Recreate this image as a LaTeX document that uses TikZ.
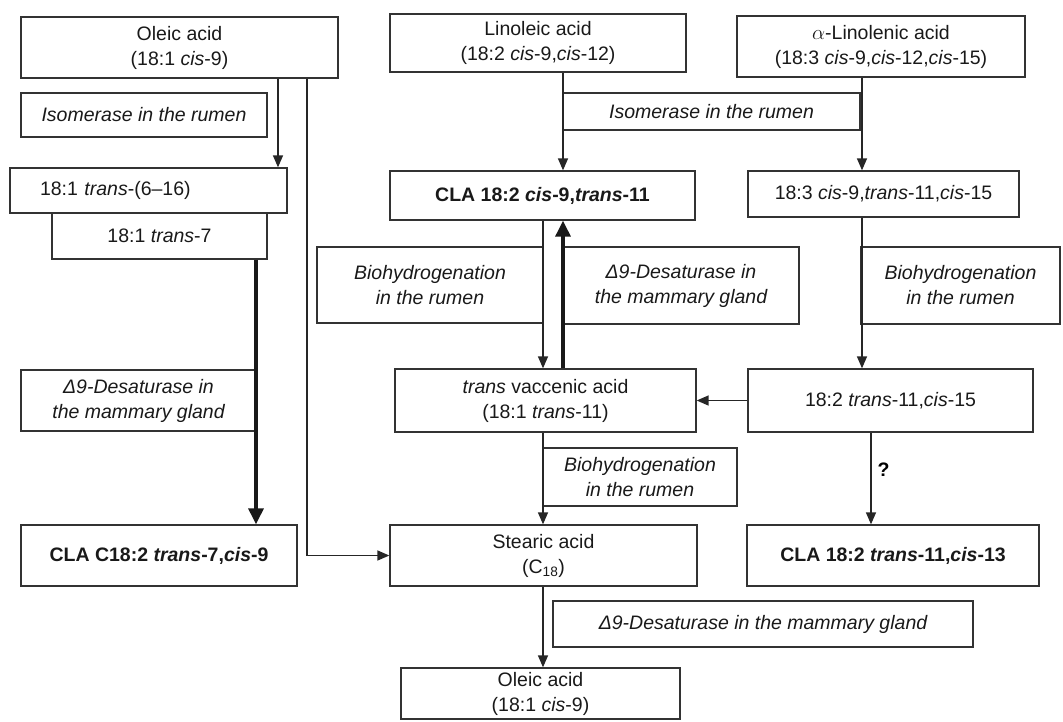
\documentclass[tikz,border=0pt]{standalone}
\usepackage{fontspec}
\setmainfont{Liberation Sans}
\usetikzlibrary{arrows.meta}

\tikzset{
    acid/.style={draw=black!80, line width=1.3pt, align=center, inner sep=0pt,
        text=black!90, font=\fontsize{19.5}{25}\selectfont},
    enzyme/.style={acid, font=\fontsize{19.5}{25}\selectfont\itshape},
    link/.style={draw=black!85, line width=1.4pt, -{Triangle[length=12pt,width=10pt]}},
    biglink/.style={draw=black!90, line width=3.2pt, -{Triangle[length=16pt,width=15pt]}}
}

\begin{document}
\begin{tikzpicture}[x=1pt, y=-1pt]
    \useasboundingbox (0,0) rectangle (1063,721);

    % 1. Cột trái: axit oleic
    \node[acid, minimum width=317pt, minimum height=61pt] (oleic) at (179.5,47.5)
        {Oleic acid\\(18:1 \textit{cis}-9)};
    \node[enzyme, minimum width=246pt, minimum height=44pt] (isoL) at (144,115)
        {Isomerase in the rumen};
    \node[acid, minimum width=277pt, minimum height=45pt, text width=217pt, align=left] (tr616) at (148.5,190.5)
        {18:1 \textit{trans}-(6--16)};
    \node[acid, minimum width=215pt, minimum height=46pt] (tr7) at (159.5,236)
        {18:1 \textit{trans}-7};
    \node[enzyme, minimum width=235pt, minimum height=61pt] (desL) at (138.5,400.5)
        {Δ9-Desaturase in\\the mammary gland};
    \node[acid, minimum width=276pt, minimum height=61pt, font=\fontsize{19.5}{25}\selectfont\bfseries] (claL) at (159,555.5)
        {CLA C18:2 \textit{trans}-7,\textit{cis}-9};

    % 2. Cột giữa: axit linoleic
    \node[acid, minimum width=296pt, minimum height=58pt] (linol) at (538,43)
        {Linoleic acid\\(18:2 \textit{cis}-9,\textit{cis}-12)};
    \node[enzyme, minimum width=297pt, minimum height=37pt] (isoM) at (711.5,111.5)
        {Isomerase in the rumen};
    \node[acid, minimum width=305pt, minimum height=49pt, font=\fontsize{19.5}{25}\selectfont\bfseries] (claM) at (542.5,195.5)
        {CLA 18:2 \textit{cis}-9,\textit{trans}-11};
    \node[enzyme, minimum width=226pt, minimum height=76pt] (bioL) at (430,285)
        {Biohydrogenation\\in the rumen};
    \node[enzyme, minimum width=236pt, minimum height=77pt] (desM) at (681,285.5)
        {Δ9-Desaturase in\\the mammary gland};
    \node[acid, minimum width=301pt, minimum height=63pt] (tva) at (545.5,400.5)
        {\textit{trans} vaccenic acid\\(18:1 \textit{trans}-11)};
    \node[enzyme, minimum width=194pt, minimum height=58pt] (bioB) at (640,477)
        {Biohydrogenation\\in the rumen};
    \node[acid, minimum width=307pt, minimum height=61pt] (stear) at (543.5,555.5)
        {Stearic acid\\(C\textsubscript{18})};
    \node[enzyme, minimum width=420pt, minimum height=46pt] (desB) at (763,624)
        {Δ9-Desaturase in the mammary gland};
    \node[acid, minimum width=279pt, minimum height=51pt] (oleicB) at (540.5,693.5)
        {Oleic acid\\(18:1 \textit{cis}-9)};

    % 3. Cột phải: axit alpha-linolenic
    \node[acid, minimum width=288pt, minimum height=61pt] (linolen) at (881,46.5)
        {$\alpha$-Linolenic acid\\(18:3 \textit{cis}-9,\textit{cis}-12,\textit{cis}-15)};
    \node[acid, minimum width=271pt, minimum height=46pt] (c183) at (883.5,194)
        {18:3 \textit{cis}-9,\textit{trans}-11,\textit{cis}-15};
    \node[enzyme, minimum width=199pt, minimum height=77pt] (bioR) at (960.5,285.5)
        {Biohydrogenation\\in the rumen};
    \node[acid, minimum width=285pt, minimum height=63pt] (c182) at (890.5,400.5)
        {18:2 \textit{trans}-11,\textit{cis}-15};
    \node[acid, minimum width=292pt, minimum height=61pt, font=\fontsize{19.5}{25}\selectfont\bfseries] (claR) at (893,555.5)
        {CLA 18:2 \textit{trans}-11,\textit{cis}-13};

    % 4. Mũi tên
    \draw[link] ([xshift=98.5]oleic.south) -- ([xshift=129.5]tr616.north);
    \draw[link] ([xshift=127.5]oleic.south) |- (stear.west);
    \draw[biglink] ([xshift=96.5]tr7.south) -- ([xshift=97]claL.north);

    \draw[link] ([xshift=25]linol.south) -- ([xshift=20.5]claM.north);
    \draw[link] ([xshift=0.5]claM.south) -- ([xshift=-2.5]tva.north);
    \draw[biglink] ([xshift=17.5]tva.north) -- ([xshift=20.5]claM.south);
    \draw[link] ([xshift=-2.5]tva.south) -- ([xshift=-0.5]stear.north);
    \draw[link] ([xshift=-0.5]stear.south) -- ([xshift=2.5]oleicB.north);

    \draw[link] ([xshift=-19]linolen.south) -- ([xshift=-21.5]c183.north);
    \draw[link] ([xshift=-21.5]c183.south) -- ([xshift=-28.5]c182.north);
    \draw[link] (c182.west) -- (c182.west -| tva.east);
    \draw[link] ([xshift=-19.5]c182.south) --
        node[right, pos=0.4, inner sep=6pt, font=\fontsize{19.5}{25}\selectfont\bfseries] (qmark) {?}
        ([xshift=-22]claR.north);

\end{tikzpicture}
\end{document}
